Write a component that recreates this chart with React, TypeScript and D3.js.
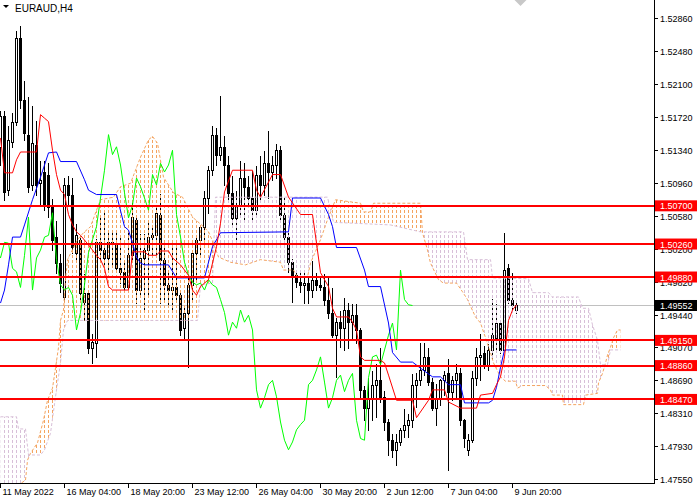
import * as d3 from 'd3';

// EURAUD H4 bars, bar 0 = 11 May 16:00, last bar = 10 Jun 00:00
const opens = [
  1.5138, 1.5174, 1.5088, 1.5144, 1.5167, 1.5263, 1.5192, 1.5152, 1.5094, 1.5140,
  1.5096, 1.5109, 1.5106, 1.5069, 1.5034, 1.5004, 1.4965, 1.5094, 1.5083, 1.5016,
  1.5031, 1.4959, 1.4970, 1.4906, 1.4912, 1.5028, 1.5019, 1.5010, 1.5028, 1.5027,
  1.4998, 1.4994, 1.4976, 1.5013, 1.5054, 1.4973, 1.5010, 1.5019, 1.5034, 1.5036,
  1.5060, 1.5008, 1.4979, 1.4973, 1.4976, 1.4967, 1.4929, 1.4947, 1.4979, 1.5016,
  1.5031, 1.5046, 1.5079, 1.5111, 1.5152, 1.5129, 1.5138, 1.5117, 1.5085, 1.5056,
  1.5071, 1.5102, 1.5092, 1.5079, 1.5065, 1.5106, 1.5094, 1.5119, 1.5109, 1.5117,
  1.5134, 1.5060, 1.5034, 1.5005, 1.4990, 1.4982, 1.4979, 1.4981, 1.4973, 1.4985,
  1.4979, 1.4976, 1.4962, 1.4947, 1.4921, 1.4936, 1.4929, 1.4950, 1.4936, 1.4944,
  1.4927, 1.4858, 1.4837, 1.4849, 1.4864, 1.4869, 1.4850, 1.4821, 1.4800, 1.4789,
  1.4798, 1.4812, 1.4818, 1.4823, 1.4864, 1.4869, 1.4881, 1.4896, 1.4867, 1.4837,
  1.4849, 1.4869, 1.4878, 1.4856, 1.4869, 1.4877, 1.4823, 1.4789, 1.4800, 1.4872,
  1.4896, 1.4901, 1.4887, 1.4904, 1.4918, 1.4935, 1.4904, 1.4998, 1.4962, 1.4950,
];
const highs = [
  1.5180, 1.5180, 1.5163, 1.5178, 1.5273, 1.5278, 1.5215, 1.5196, 1.5186, 1.5169,
  1.5123, 1.5123, 1.5120, 1.5079, 1.5054, 1.5016, 1.5103, 1.5106, 1.5103, 1.5050,
  1.5036, 1.4993, 1.4973, 1.4924, 1.5033, 1.5060, 1.5063, 1.5040, 1.5042, 1.5040,
  1.5034, 1.5008, 1.5042, 1.5077, 1.5057, 1.5039, 1.5039, 1.5054, 1.5048, 1.5071,
  1.5085, 1.5025, 1.4996, 1.5031, 1.5028, 1.4973, 1.4956, 1.4990, 1.5019, 1.5036,
  1.5048, 1.5088, 1.5117, 1.5163, 1.5161, 1.5198, 1.5152, 1.5129, 1.5106, 1.5088,
  1.5123, 1.5120, 1.5106, 1.5111, 1.5117, 1.5129, 1.5134, 1.5157, 1.5129, 1.5142,
  1.5140, 1.5080, 1.5040, 1.5010, 1.4996, 1.4994, 1.4996, 1.4988, 1.5008, 1.4994,
  1.4990, 1.4993, 1.4990, 1.4976, 1.4942, 1.4950, 1.4965, 1.4959, 1.4958, 1.4958,
  1.4931, 1.4864, 1.4873, 1.4881, 1.4889, 1.4907, 1.4858, 1.4826, 1.4808, 1.4808,
  1.4815, 1.4837, 1.4831, 1.4878, 1.4879, 1.4913, 1.4913, 1.4907, 1.4873, 1.4866,
  1.4872, 1.4881, 1.4895, 1.4875, 1.4889, 1.4884, 1.4826, 1.4808, 1.4881, 1.4907,
  1.4924, 1.4910, 1.4912, 1.4964, 1.4958, 1.4938, 1.5040, 1.5004, 1.4994, 1.4962,
];
const lows = [
  1.5117, 1.5077, 1.5083, 1.5138, 1.5163, 1.5183, 1.5146, 1.5086, 1.5088, 1.5083,
  1.5071, 1.5065, 1.5057, 1.5019, 1.4993, 1.4971, 1.4959, 1.5071, 1.5016, 1.5008,
  1.4962, 1.4938, 1.4900, 1.4889, 1.4896, 1.5005, 1.5002, 1.4996, 1.5000, 1.4994,
  1.4981, 1.4973, 1.4971, 1.5005, 1.4958, 1.4965, 1.4948, 1.4965, 1.5013, 1.5013,
  1.4958, 1.4962, 1.4956, 1.4950, 1.4962, 1.4921, 1.4915, 1.4884, 1.4962, 1.4985,
  1.5013, 1.5025, 1.5062, 1.5106, 1.5117, 1.5123, 1.5094, 1.5077, 1.5048, 1.5025,
  1.5060, 1.5054, 1.5071, 1.5051, 1.5060, 1.5077, 1.5083, 1.5079, 1.5100, 1.5102,
  1.5054, 1.5022, 1.4994, 1.4959, 1.4976, 1.4971, 1.4958, 1.4958, 1.4965, 1.4973,
  1.4973, 1.4956, 1.4941, 1.4919, 1.4873, 1.4907, 1.4904, 1.4906, 1.4915, 1.4912,
  1.4850, 1.4823, 1.4812, 1.4823, 1.4827, 1.4844, 1.4812, 1.4783, 1.4781, 1.4772,
  1.4795, 1.4804, 1.4804, 1.4815, 1.4838, 1.4864, 1.4875, 1.4864, 1.4835, 1.4818,
  1.4841, 1.4852, 1.4766, 1.4846, 1.4849, 1.4818, 1.4792, 1.4783, 1.4798, 1.4864,
  1.4869, 1.4883, 1.4881, 1.4895, 1.4902, 1.4901, 1.4902, 1.4958, 1.4950, 1.4947,
];
const closes = [
  1.5173, 1.5086, 1.5146, 1.5167, 1.5263, 1.5192, 1.5154, 1.5092, 1.5142, 1.5094,
  1.5100, 1.5071, 1.5069, 1.5031, 1.5004, 1.4981, 1.5094, 1.5083, 1.5022, 1.5036,
  1.4970, 1.4970, 1.4906, 1.4913, 1.5028, 1.5019, 1.5010, 1.5028, 1.5027, 1.4998,
  1.4994, 1.4976, 1.5013, 1.5057, 1.4973, 1.5010, 1.5019, 1.5034, 1.5036, 1.5062,
  1.5008, 1.4979, 1.4973, 1.4976, 1.4967, 1.4927, 1.4947, 1.4979, 1.5016, 1.5031,
  1.5046, 1.5079, 1.5111, 1.5152, 1.5129, 1.5138, 1.5117, 1.5085, 1.5056, 1.5071,
  1.5102, 1.5092, 1.5079, 1.5065, 1.5106, 1.5094, 1.5119, 1.5109, 1.5117, 1.5134,
  1.5060, 1.5034, 1.5005, 1.4990, 1.4982, 1.4979, 1.4981, 1.4973, 1.4985, 1.4979,
  1.4976, 1.4962, 1.4947, 1.4921, 1.4936, 1.4929, 1.4950, 1.4936, 1.4944, 1.4927,
  1.4858, 1.4837, 1.4849, 1.4864, 1.4869, 1.4850, 1.4821, 1.4800, 1.4789, 1.4798,
  1.4812, 1.4818, 1.4823, 1.4864, 1.4869, 1.4881, 1.4896, 1.4867, 1.4837, 1.4849,
  1.4869, 1.4875, 1.4856, 1.4869, 1.4877, 1.4823, 1.4802, 1.4800, 1.4872, 1.4896,
  1.4898, 1.4887, 1.4904, 1.4921, 1.4935, 1.4904, 1.4996, 1.4962, 1.4956, 1.49552,
];

// Ichimoku lines, [bar, price] vertices
const tenkan: [number, number][] = [
  [0, 1.5148], [1, 1.5108], [3, 1.5108], [4, 1.5123], [5, 1.5132], [9, 1.5132], [10, 1.5175],
  [11, 1.5171], [12, 1.5167], [13, 1.5134], [14, 1.5106], [15, 1.5088], [16, 1.5083], [17, 1.5060],
  [18, 1.5048], [19, 1.5040], [20, 1.5036], [22, 1.5025], [24, 1.5013], [25, 1.5008], [26, 1.4998],
  [27, 1.4977], [28, 1.4973], [32, 1.4973], [33, 1.5017], [36, 1.5017], [37, 1.5013], [39, 1.5013],
  [40, 1.5018], [42, 1.5018], [43, 1.5010], [45, 1.5002], [47, 1.4990], [48, 1.4973], [49, 1.4967],
  [50, 1.4977], [52, 1.4985], [54, 1.5023], [55, 1.5050], [56, 1.5086], [58, 1.5111], [63, 1.5111],
  [64, 1.5088], [65, 1.5080], [68, 1.5106], [70, 1.5106], [72, 1.5080], [75, 1.5060], [78, 1.5060],
  [79, 1.5027], [80, 1.4993], [82, 1.4977], [83, 1.4952], [84, 1.4942], [87, 1.4942], [88, 1.4936],
  [89, 1.4927], [90, 1.4896], [91, 1.4892], [95, 1.4892], [96, 1.4889], [97, 1.4875], [99, 1.4846],
  [103, 1.4846], [104, 1.4826], [107, 1.4846], [108, 1.4858], [111, 1.4858], [112, 1.4844],
  [115, 1.4837], [119, 1.4837], [120, 1.4852], [123, 1.4854], [124, 1.4864], [125, 1.4873],
  [126, 1.4896], [127, 1.4938], [128, 1.4950], [129, 1.4956],
];
const kijun: [number, number][] = [
  [0, 1.4958], [1, 1.4973], [2, 1.5002], [3, 1.5034], [5, 1.5034], [6, 1.5048], [8, 1.5077],
  [10, 1.5103], [12, 1.5131], [14, 1.5132], [15, 1.5121], [19, 1.5121], [21, 1.5100], [22, 1.5088],
  [24, 1.5083], [29, 1.5083], [31, 1.5046], [32, 1.5042], [33, 1.5027], [34, 1.5011], [35, 1.5004],
  [36, 1.5002], [42, 1.5002], [44, 1.4987], [51, 1.4987], [53, 1.5023], [55, 1.5039], [72, 1.5040],
  [73, 1.5079], [80, 1.5079], [82, 1.5060], [83, 1.5046], [84, 1.5022], [89, 1.5022], [91, 1.4996],
  [92, 1.4977], [95, 1.4977], [97, 1.4935], [98, 1.4901], [100, 1.4890], [103, 1.4890],
  [105, 1.4883], [108, 1.4873], [110, 1.4873], [112, 1.4864], [115, 1.4864], [116, 1.4843],
  [122, 1.4843], [123, 1.4846], [124, 1.4861], [125, 1.4884], [126, 1.4904], [129, 1.4904],
];
const senkouA: [number, number][] = [
  [0, 1.4725], [4, 1.4731], [5, 1.4750], [6.25, 1.4754], [6.75, 1.4777], [7.5, 1.4785],
  [9.25, 1.4797], [10.75, 1.4823], [11.75, 1.4846], [13, 1.4860], [13.75, 1.4883], [14.5, 1.4907],
  [15, 1.4938], [15.75, 1.4950], [16.25, 1.4985], [16.75, 1.5008], [19.25, 1.5031], [20.75, 1.5039],
  [22.5, 1.5046], [24.25, 1.5068], [25, 1.5077], [28.25, 1.5080], [30, 1.5092], [32.5, 1.5096],
  [35, 1.5126], [37, 1.5146], [38, 1.5150], [39.25, 1.5142], [40.75, 1.5103], [43.25, 1.5085],
  [45.5, 1.5080], [48, 1.5057], [50.75, 1.5046], [52, 1.5040], [53.25, 1.5027], [54.5, 1.5011],
  [57.5, 1.5005], [61.25, 1.5002], [65, 1.5008], [70, 1.5005], [70.75, 1.4996], [73.25, 1.4996],
  [74.25, 1.4988], [76.75, 1.4988], [77.5, 1.5004], [80, 1.5031], [81.75, 1.5054], [83.75, 1.5077],
  [90, 1.5073], [90.75, 1.5063], [92.5, 1.5063], [93.25, 1.5073], [105, 1.5073], [105.5, 1.5039],
  [106.75, 1.5019], [107.5, 1.5004], [109.5, 1.4985], [110.75, 1.4981], [114, 1.4981],
  [115.5, 1.4971], [116.75, 1.4962], [118.75, 1.4942], [120, 1.4935], [122.5, 1.4901],
  [123.25, 1.4889], [125, 1.4873], [126.25, 1.4868], [128.75, 1.4868], [129.25, 1.4860],
  [130.5, 1.4863], [136.25, 1.4863], [137.5, 1.4858], [138, 1.4852], [140.5, 1.4852],
  [140.75, 1.4841], [145.75, 1.4841], [146.25, 1.4852], [149.25, 1.4854], [149.5, 1.4866],
  [150.5, 1.4877], [151.25, 1.4889], [151.75, 1.4898], [152.5, 1.4907], [153.25, 1.4918],
  [154.25, 1.4927], [155, 1.4927],
];
const senkouB: [number, number][] = [
  [0, 1.4827], [4, 1.4827], [4.5, 1.4813], [6.25, 1.4813], [7, 1.4783], [10, 1.4783], [11, 1.4789],
  [12.5, 1.4808], [13.75, 1.4850], [15, 1.4889], [15.75, 1.4927], [16.75, 1.4938], [49.25, 1.4938],
  [50, 1.4979], [53, 1.4981], [53.75, 1.5080], [81.75, 1.5080], [83.25, 1.5051], [97.5, 1.5048],
  [105, 1.5040], [115.75, 1.5040], [116.75, 1.5008], [122.5, 1.5008], [123, 1.4987], [132, 1.4986],
  [133, 1.4970], [137, 1.4970], [138, 1.4965], [144.5, 1.4965], [145.5, 1.4952], [147, 1.4952],
  [148, 1.4933], [149.25, 1.4915], [150, 1.4887], [151.75, 1.4887], [152.5, 1.4904], [155, 1.4904],
];
const CHIKOU_SHIFT = 26;

const levels = [1.507, 1.5026, 1.4988, 1.4915, 1.4886, 1.4847];
const lastPrice = 1.49552;
const priceTicks = [
  1.5286, 1.5248, 1.521, 1.5172, 1.5134, 1.5096, 1.5058, 1.502,
  1.4982, 1.4944, 1.4907, 1.4869, 1.4831, 1.4793, 1.4755,
];
const timeTickBars = [0, 16, 32, 48, 64, 80, 96, 112, 128];
const timeTickLabels = [
  '11 May 2022', '16 May 04:00', '18 May 20:00', '23 May 12:00', '26 May 04:00',
  '30 May 20:00', '2 Jun 12:00', '7 Jun 04:00', '9 Jun 20:00',
];

const WIDTH = 700;
const HEIGHT = 500;
const PLOT_RIGHT = 654;
const PLOT_BOTTOM = 483;
const FONT = '"Liberation Sans", Arial, sans-serif';
const SANDY = '#f4a460';
const THISTLE = '#d8bfd8';

// 4px per bar, price scale fitted to the axis ticks
const x = d3.scaleLinear().domain([0, 1]).range([0.5, 4.5]);
const y = d3.scaleLinear().domain([1.5286, 1.4755]).range([18.3, 479.3]);
const sy = (v: number) => Math.round(y(v)) + 0.5;

type Pt = [number, number];

export default function App() {
  const line = d3.line<Pt>().x((d) => x(d[0])).y((d) => y(d[1]));
  const below = (pts: Pt[]) =>
    d3.area<Pt>().x((d) => x(d[0])).y0(PLOT_BOTTOM + 60).y1((d) => y(d[1]))(pts) || '';
  const above = (pts: Pt[]) =>
    d3.area<Pt>().x((d) => x(d[0])).y0(-60).y1((d) => y(d[1]))(pts) || '';

  const chikou: Pt[] = closes.map((c, i) => [i - CHIKOU_SHIFT, c]);
  const lastBar = closes.length - 1;

  return (
    <svg
      width={WIDTH}
      height={HEIGHT}
      style={{ position: 'absolute', left: 0, top: 0, background: '#fff' }}
      fontFamily={FONT}
    >
      <defs>
        <pattern id='hatchA' width={4} height={5} patternUnits='userSpaceOnUse'>
          <rect x={0} y={0} width={1} height={3} fill={SANDY} shapeRendering='crispEdges' />
        </pattern>
        <pattern id='hatchB' width={4} height={5} patternUnits='userSpaceOnUse'>
          <rect x={0} y={0} width={1} height={3} fill={THISTLE} shapeRendering='crispEdges' />
        </pattern>
        <clipPath id='plot'>
          <rect x={0} y={0} width={PLOT_RIGHT} height={PLOT_BOTTOM} />
        </clipPath>
        <clipPath id='belowA'><path d={below(senkouA)} /></clipPath>
        <clipPath id='aboveA'><path d={above(senkouA)} /></clipPath>
        <clipPath id='belowB'><path d={below(senkouB)} /></clipPath>
        <clipPath id='aboveB'><path d={above(senkouB)} /></clipPath>
      </defs>

      <g clipPath='url(#plot)'>
        {/* current price line */}
        <line x1={0} x2={PLOT_RIGHT} y1={sy(lastPrice)} y2={sy(lastPrice)} stroke='#c0c0c0' />

        {/* candles */}
        <g shapeRendering='crispEdges'>
          {opens.map((o, i) => {
            const c = closes[i];
            const cx = x(i);
            const top = sy(Math.max(o, c));
            const bot = sy(Math.min(o, c));
            return (
              <g key={i}>
                <line x1={cx} x2={cx} y1={sy(highs[i])} y2={sy(lows[i])} stroke='#000' />
                <rect
                  x={cx - 1}
                  y={top}
                  width={2}
                  height={Math.max(bot - top, 1)}
                  fill={c >= o ? '#fff' : '#000'}
                  stroke='#000'
                />
              </g>
            );
          })}
        </g>

        {/* kumo hatch */}
        <g clipPath='url(#belowA)'>
          <g clipPath='url(#aboveB)'>
            <rect x={0} y={0} width={PLOT_RIGHT} height={PLOT_BOTTOM} fill='url(#hatchA)' />
          </g>
        </g>
        <g clipPath='url(#belowB)'>
          <g clipPath='url(#aboveA)'>
            <rect x={0} y={0} width={PLOT_RIGHT} height={PLOT_BOTTOM} fill='url(#hatchB)' />
          </g>
        </g>
        <path d={line(senkouA) || ''} fill='none' stroke={SANDY} strokeDasharray='3 2' />
        <path d={line(senkouB) || ''} fill='none' stroke={THISTLE} strokeDasharray='3 2' />

        <path d={line(chikou) || ''} fill='none' stroke='#00ff00' />
        <path d={line(kijun) || ''} fill='none' stroke='#0000ff' />
        <path d={line(tenkan) || ''} fill='none' stroke='#ff0000' />

        {/* support / resistance levels */}
        <g shapeRendering='crispEdges'>
          {levels.map((lv) => (
            <line
              key={lv}
              x1={0}
              x2={PLOT_RIGHT}
              y1={Math.round(y(lv))}
              y2={Math.round(y(lv))}
              stroke='#ff0000'
              strokeWidth={2}
            />
          ))}
        </g>
      </g>

      {/* chart shift marker */}
      <path
        d={`M${x(lastBar + 1) - 6},0L${x(lastBar + 1) + 6},0L${x(lastBar + 1)},6Z`}
        fill='#c8c8c8'
      />

      {/* axes */}
      <g shapeRendering='crispEdges' stroke='#000'>
        <line x1={PLOT_RIGHT + 0.5} x2={PLOT_RIGHT + 0.5} y1={0} y2={PLOT_BOTTOM + 0.5} />
        <line x1={0} x2={PLOT_RIGHT + 0.5} y1={PLOT_BOTTOM + 0.5} y2={PLOT_BOTTOM + 0.5} />
        {priceTicks.map((t) => (
          <line key={t} x1={PLOT_RIGHT} x2={PLOT_RIGHT + 4} y1={sy(t)} y2={sy(t)} />
        ))}
        {timeTickBars.map((b) => (
          <line key={b} x1={x(b)} x2={x(b)} y1={PLOT_BOTTOM} y2={PLOT_BOTTOM + 5} />
        ))}
      </g>
      <g fontSize={9} fill='#000'>
        {priceTicks.map((t) => (
          <text key={t} x={PLOT_RIGHT + 6} y={y(t) + 3.5}>{t.toFixed(5)}</text>
        ))}
        {timeTickBars.map((b, i) => (
          <text key={b} x={x(b) + 2} y={PLOT_BOTTOM + 12}>{timeTickLabels[i]}</text>
        ))}
      </g>

      {/* level tags */}
      {levels.map((lv) => (
        <g key={lv}>
          <rect x={PLOT_RIGHT + 1} y={y(lv) - 5.5} width={42} height={11} fill='#ff0000' />
          <text x={PLOT_RIGHT + 6} y={y(lv) + 3.5} fontSize={9} fill='#fff'>{lv.toFixed(5)}</text>
        </g>
      ))}
      <rect x={PLOT_RIGHT + 1} y={y(lastPrice) - 5.5} width={42} height={11} fill='#000' />
      <text x={PLOT_RIGHT + 6} y={y(lastPrice) + 3.5} fontSize={9} fill='#fff'>
        {lastPrice.toFixed(5)}
      </text>

      {/* symbol title */}
      <path d='M3,5L9,5L6,8Z' fill='#000' />
      <text x={15} y={11.5} fontSize={10} fill='#000'>EURAUD,H4</text>
    </svg>
  );
}
